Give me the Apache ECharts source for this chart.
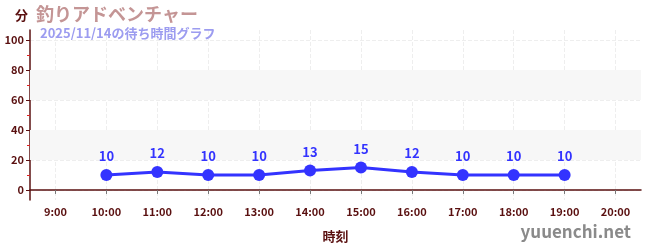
<!DOCTYPE html>
<html><head><meta charset="utf-8">
<script src="https://cdn.jsdelivr.net/npm/echarts@6/dist/echarts.min.js"></script>
<style>html,body{margin:0;padding:0;background:#fff}#c{width:650px;height:250px}</style>
</head><body><div id="c"></div>
<script>
const titleText = '釣りアドベンチャー';
const subtitleText = '2025/11/14の待ち時間グラフ';
const yName = '分';
const xName = '時刻';
const watermark = 'yuuenchi.net';
const hours = [10, 11, 12, 13, 14, 15, 16, 17, 18, 19];
const waits = [10, 12, 10, 10, 13, 15, 12, 10, 10, 10];
const bands = [[20, 40], [60, 80]];
const minorTickValues = [10, 30, 50, 70, 90];

const font = '"Noto Sans CJK JP", "Noto Sans", sans-serif';
const axisColor = '#5a1010';
const yMin = -6.7, yMax = 106.7;
const chart = echarts.init(document.getElementById('c'));
chart.setOption({
  animation: false,
  textStyle: {fontFamily: font},
  title: [
    {text: titleText, left: 31, top: 0, textStyle: {fontFamily: font, fontSize: 18, fontWeight: 'bold', color: '#c49595'}},
    {text: subtitleText, left: 35, top: 22, textStyle: {fontFamily: font, fontSize: 13, fontWeight: 'bold', color: '#9c9cf0'}},
    {text: watermark, right: 14, bottom: 5, textStyle: {fontFamily: font, fontSize: 17, fontWeight: 'bold', color: '#8a8a8a'}}
  ],
  grid: {left: 30, right: 9, top: 30, bottom: 50, containLabel: false},
  xAxis: {
    type: 'value', min: 8.5, max: 20.5, splitNumber: 12,
    name: xName, nameLocation: 'middle', nameGap: 30,
    nameTextStyle: {fontFamily: font, fontSize: 13, fontWeight: 'bold', color: axisColor},
    axisLine: {lineStyle: {color: axisColor, width: 1.5}},
    axisTick: {show: true, length: 4, lineStyle: {color: '#777'}},
    axisLabel: {showMinLabel: false, showMaxLabel: false, fontFamily: font, fontSize: 11, fontWeight: 'bold', color: axisColor, margin: 6,
      formatter: v => Number.isInteger(v) ? v + ':00' : ''},
    splitLine: {show: true, showMinLine: false, showMaxLine: false, lineStyle: {color: '#eeeeee', type: 'dashed'}}
  },
  yAxis: [{
    type: 'value', min: yMin, max: yMax,
    name: yName, nameLocation: 'end', nameGap: 8,
    nameTextStyle: {fontFamily: font, fontSize: 13, fontWeight: 'bold', color: axisColor, align: 'right', padding: [0, 2, 0, 0]},
    axisLine: {show: true, lineStyle: {color: axisColor, width: 1.5}},
    axisTick: {show: true, length: 4, lineStyle: {color: axisColor}},
    axisLabel: {showMinLabel: false, showMaxLabel: false, fontFamily: font, fontSize: 11, fontWeight: 'bold', color: axisColor, margin: 6},
    splitLine: {show: true, showMinLine: false, showMaxLine: false, lineStyle: {color: '#eeeeee', type: 'dashed'}}
  }, {
    type: 'value', min: yMin, max: yMax, position: 'left',
    axisLine: {show: false},
    axisTick: {show: true, length: 3, customValues: minorTickValues, lineStyle: {color: '#e02020'}},
    axisLabel: {show: false},
    splitLine: {show: false}
  }],
  series: [{
    type: 'line',
    data: hours.map((h, i) => [h, waits[i]]),
    color: '#3333ff',
    lineStyle: {width: 3, color: '#3333ff'},
    symbol: 'circle', symbolSize: 12,
    itemStyle: {color: '#3333ff'},
    label: {show: true, position: 'top', distance: 6, fontFamily: font, fontSize: 13, fontWeight: 'bold', color: '#3333ff'},
    markArea: {silent: true, itemStyle: {color: '#f7f7f7'}, data: bands.map(b => [{yAxis: b[0]}, {yAxis: b[1]}])},
    z: 5
  }]
});
</script></body></html>
